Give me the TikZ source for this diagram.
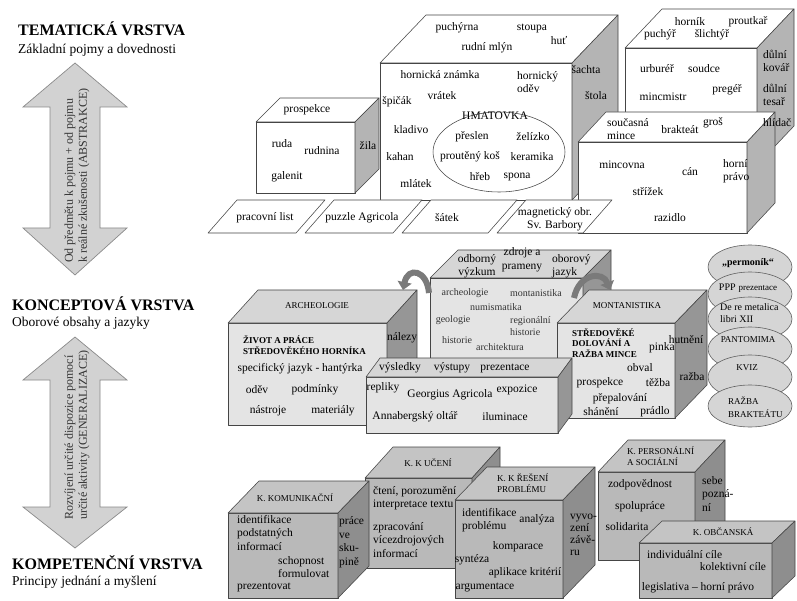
\documentclass[tikz,border=0pt]{standalone}
\usepackage{fontspec}
\setmainfont{Liberation Serif}
\usetikzlibrary{arrows.meta}

\definecolor{edgecol}{HTML}{454545}
\definecolor{sidegray}{HTML}{B4B4B4}
\definecolor{midfront}{HTML}{E4E4E4}
\definecolor{midtop}{HTML}{D6D6D6}
\definecolor{midside}{HTML}{969696}
\definecolor{lowfront}{HTML}{B9B9B9}
\definecolor{lowtop}{HTML}{C4C4C4}
\definecolor{lowside}{HTML}{8E8E8E}
\definecolor{arrowfill}{HTML}{D2D2D2}
\definecolor{arrowedge}{HTML}{8A8A8A}
\definecolor{bendgray}{HTML}{7A7A7A}
\definecolor{ovalfill}{HTML}{D5D5D5}
\definecolor{softtext}{HTML}{333333}

\tikzset{
  face/.style={draw=edgecol, line width=0.55pt, line join=round},
  bigarrow/.style={draw=arrowedge, fill=arrowfill, line width=0.7pt},
  curvearrow/.style={draw=bendgray, line width=6pt, -{Triangle[length=8pt,width=14pt]}},
  oval/.style={draw=edgecol!85, fill=ovalfill, line width=0.6pt},
  lbl/.style={font=\fontsize{11.5}{13.5}\selectfont, inner sep=0pt, align=center},
  lblw/.style={align=left, anchor=west},
  caps/.style={font=\fontsize{9}{10.5}\selectfont},
  heavy/.style={font=\bfseries\fontsize{9}{10.5}\selectfont, align=left, anchor=west},
  minor/.style={font=\fontsize{10}{12}\selectfont, text=softtext},
  layer/.style={font=\bfseries\fontsize{16}{18}\selectfont, anchor=west},
  layersub/.style={font=\fontsize{13.5}{15}\selectfont, anchor=west},
  axistext/.style={font=\fontsize{12}{14}\selectfont, text=softtext, rotate=90, anchor=west, align=left},
}

% cuboid: front corner (x,y), width, height, depth dx, depth dy, front/top/side fills
\newcommand\drawcuboid[9]{%
  \filldraw[face, fill=#7] (#1,#2) rectangle ++(#3,#4);
  \filldraw[face, fill=#8] (#1,#2) -- ++(#5,-#6) -- ++(#3,0) -- ++(-#5,#6) -- cycle;
  \filldraw[face, fill=#9] (#1+#3,#2) -- ++(#5,-#6) -- ++(0,#4) -- ++(-#5,#6) -- cycle;
}

\newcounter{txtno}
\newcommand\placetext[3][]{\stepcounter{txtno}\node[lbl,#1] (txt\arabic{txtno}) at (#2) {#3};}

\begin{document}
\begin{tikzpicture}[x=1pt,y=-1pt]
\useasboundingbox (0,0) rectangle (797,601);
\fill[white] (0,0) rectangle (797,601);

% ---------- layer arrows ----------
\filldraw[bigarrow] (75,63) -- (127,107) -- (100,107) -- (100,228) -- (127,228) -- (75,275)
  -- (23,228) -- (50,228) -- (50,107) -- (23,107) -- cycle;
\filldraw[bigarrow] (75,337) -- (127,380) -- (100,380) -- (100,507) -- (127,507) -- (75,548)
  -- (23,507) -- (50,507) -- (50,380) -- (23,380) -- cycle;

% ---------- thematic layer ----------
\drawcuboid{625}{48}{132}{117}{37}{39}{white}{white}{sidegray}
\drawcuboid{256}{122}{99}{71}{24}{24}{white}{white}{sidegray}
\drawcuboid{380}{63}{192}{137}{46}{48}{white}{white}{sidegray}
\draw[face, fill=white] (499,152) ellipse [x radius=66pt, y radius=40pt];
\drawcuboid{578}{142}{169}{91}{28}{30}{white}{white}{sidegray}
\filldraw[face, fill=white] (208,233) -- (296,233) -- (325,200) -- (237,200) -- cycle;
\filldraw[face, fill=white] (305,233) -- (393,233) -- (422,200) -- (334,200) -- cycle;
\filldraw[face, fill=white] (402,233) -- (488,233) -- (517,200) -- (431,200) -- cycle;
\filldraw[face, fill=white] (497,233) -- (583,233) -- (612,200) -- (526,200) -- cycle;

% ---------- conceptual layer ----------
\drawcuboid{430}{278}{153}{90}{28}{28}{midfront}{midtop}{midside}
\drawcuboid{228}{323}{159}{102}{30}{33}{midfront}{midtop}{midside}
\drawcuboid{557}{323}{118}{95}{32}{33}{midfront}{midtop}{midside}
\drawcuboid{366}{377}{192}{56}{14}{19}{midfront}{midtop}{midside}
\coordinate (bendLa) at (429,293);
\coordinate (bendLb) at (403,290);
\coordinate (bendRa) at (574,298);
\coordinate (bendRb) at (610,290);
\draw[curvearrow] (bendLa) .. controls (427,270) and (408,266) .. (bendLb);
\draw[curvearrow] (bendRa) .. controls (579,273) and (603,271) .. (bendRb);

\draw[oval] (750,267) ellipse [x radius=42pt, y radius=22pt];
\draw[oval] (750,294) ellipse [x radius=42pt, y radius=22pt];
\draw[oval] (750,319) ellipse [x radius=42pt, y radius=22pt];
\draw[oval] (750,349) ellipse [x radius=42pt, y radius=22pt];
\draw[oval] (750,377) ellipse [x radius=42pt, y radius=22pt];
\draw[oval] (750,406) ellipse [x radius=42pt, y radius=21pt];

% ---------- competence layer ----------
\drawcuboid{365}{478}{107}{90}{28}{31}{lowfront}{lowtop}{lowside}
\drawcuboid{598}{472}{97}{88}{30}{32}{lowfront}{lowtop}{lowside}
\drawcuboid{455}{500}{108}{98}{32}{33}{lowfront}{lowtop}{lowside}
\drawcuboid{228}{513}{110}{85}{31}{32}{lowfront}{lowtop}{lowside}
\drawcuboid{639}{543}{133}{55}{23}{22}{lowfront}{lowtop}{lowside}

% ---------- left column ----------
\placetext[layer]{18,29}{TEMATICKÁ VRSTVA}
\placetext[layersub]{18,50}{Základní pojmy a dovednosti}
\placetext[layer]{12,304}{KONCEPTOVÁ VRSTVA}
\placetext[layersub]{12,323}{Oborové obsahy a jazyky}
\placetext[layer]{12,563}{KOMPETENČNÍ VRSTVA}
\placetext[layersub]{12,582}{Principy jednání a myšlení}
\placetext[axistext]{77,263}{Od předmětu k pojmu + od pojmu\\k reálné zkušenosti (ABSTRAKCE)}
\placetext[axistext]{77,520}{Rozvíjení určité dispozice pomocí\\určité aktivity (GENERALIZACE)}

% ---------- thematic texts ----------
\placetext{307,110}{prospekce}
\placetext{282,144}{ruda}
\placetext{322,151}{rudnina}
\placetext{287,177}{galenit}
\placetext{368,146}{žila}
\placetext{457,28}{puchýrna}
\placetext{532,28}{stoupa}
\placetext{559,40}{huť}
\placetext{487,48}{rudní mlýn}
\placetext{440,75}{hornická známka}
\placetext[lblw]{517,82}{hornický\\oděv}
\placetext{442,96}{vrátek}
\placetext{397,102}{špičák}
\placetext{411,130}{kladivo}
\placetext{400,157}{kahan}
\placetext{416,184}{mlátek}
\placetext{495,116}{HMATOVKA}
\placetext{472,137}{přeslen}
\placetext{533,137}{želízko}
\placetext{470,157}{proutěný koš}
\placetext{532,157}{keramika}
\placetext{480,177}{hřeb}
\placetext{517,177}{spona}
\placetext{586,70}{šachta}
\placetext{596,96}{štola}
\placetext{690,22}{horník}
\placetext{748,22}{proutkař}
\placetext{660,35}{puchýř}
\placetext{712,35}{šlichtýř}
\placetext{657,69}{urburéř}
\placetext{704,69}{soudce}
\placetext{727,90}{pregéř}
\placetext{663,97}{mincmistr}
\placetext[lblw]{763,61}{důlní\\kovář}
\placetext[lblw]{763,95}{důlní\\tesař}
\placetext[lblw]{763,123}{hlídač}
\placetext[lblw]{607,129}{současná\\mince}
\placetext{680,130}{brakteát}
\placetext{713,123}{groš}
\placetext{622,165}{mincovna}
\placetext{690,172}{cán}
\placetext{648,192}{střížek}
\placetext{670,218}{razidlo}
\placetext[lblw]{723,171}{horní\\právo}
\placetext{265,218}{pracovní list}
\placetext{362,218}{puzzle Agricola}
\placetext{447,218}{šátek}
\placetext{555,219}{magnetický obr.\\Sv. Barbory}

% ---------- conceptual texts ----------
\placetext{477,266}{odborný\\výzkum}
\placetext{522,260}{zdroje a\\prameny}
\placetext[lblw]{552,266}{oborový\\jazyk}
\placetext[minor]{465,293}{archeologie}
\placetext[minor]{536,293}{montanistika}
\placetext[minor]{496,307}{numismatika}
\placetext[minor]{453,320}{geologie}
\placetext[minor,lblw]{510,326}{regionální\\historie}
\placetext[minor]{457,340}{historie}
\placetext[minor]{500,347}{architektura}
\placetext[caps]{317,306}{ARCHEOLOGIE}
\placetext[heavy]{243,345}{ŽIVOT A PRÁCE\\STŘEDOVĚKÉHO HORNÍKA}
\placetext{300,369}{specifický jazyk - hantýrka}
\placetext{257,390}{oděv}
\placetext{315,390}{podmínky}
\placetext{268,411}{nástroje}
\placetext{333,411}{materiály}
\placetext{402,338}{nálezy}
\placetext{400,368}{výsledky}
\placetext{452,368}{výstupy}
\placetext{505,368}{prezentace}
\placetext{383,388}{repliky}
\placetext{450,395}{Georgius Agricola}
\placetext{517,390}{expozice}
\placetext{415,417}{Annabergský oltář}
\placetext{505,417}{iluminace}
\placetext[caps]{627,306}{MONTANISTIKA}
\placetext[heavy]{572,343}{STŘEDOVĚKÉ\\DOLOVÁNÍ A\\RAŽBA MINCE}
\placetext{662,348}{pinka}
\placetext{640,368}{obval}
\placetext{600,383}{prospekce}
\placetext{658,383}{těžba}
\placetext{620,399}{přepalování}
\placetext{601,412}{shánění}
\placetext{655,412}{prádlo}
\placetext{686,340}{hutnění}
\placetext{692,377}{ražba}
\placetext[font=\bfseries\fontsize{10}{12}\selectfont]{748,263}{„permoník“}
\placetext{748,288}{{\fontsize{10}{12}\selectfont PPP} {\fontsize{9}{11}\selectfont prezentace}}
\placetext[lblw, font=\fontsize{10}{12}\selectfont]{720,313}{De re metalica\\libri XII}
\placetext[caps]{748,340}{PANTOMIMA}
\placetext[caps]{747,368}{KVIZ}
\placetext[caps,lblw,font=\fontsize{9}{12.5}\selectfont]{728,407}{RAŽBA\\BRAKTEÁTU}

% ---------- competence texts ----------
\placetext[caps]{295,498}{K. KOMUNIKAČNÍ}
\placetext[lblw]{237,533}{identifikace\\podstatných\\informací}
\placetext[lblw]{278,567}{schopnost\\formulovat}
\placetext[lblw]{237,587}{prezentovat}
\placetext[lblw]{339,542}{práce\\ve\\sku-\\pině}
\placetext[caps]{428,463}{K. K UČENÍ}
\placetext[lblw]{373,498}{čtení, porozumění\\interpretace textu}
\placetext[lblw]{373,540}{zpracování\\vícezdrojových\\informací}
\placetext[caps,lblw]{497,483}{K. K ŘEŠENÍ\\PROBLÉMU}
\placetext[lblw]{462,520}{identifikace\\problému}
\placetext{537,520}{analýza}
\placetext{518,547}{komparace}
\placetext{472,560}{syntéza}
\placetext{525,573}{aplikace kritérií}
\placetext{485,587}{argumentace}
\placetext[lblw, font=\fontsize{11.5}{12}\selectfont]{570,535}{vyvo-\\zení\\závě-\\ru}
\placetext[caps,lblw]{627,456}{K. PERSONÁLNÍ\\A SOCIÁLNÍ}
\placetext{640,485}{zodpovědnost}
\placetext{640,507}{spolupráce}
\placetext{627,527}{solidarita}
\placetext[lblw]{702,494}{sebe\\pozná-\\ní}
\placetext[caps]{723,532}{K. OBČANSKÁ}
\placetext[lblw]{647,555}{individuální cíle}
\placetext{733,567}{kolektivní cíle}
\placetext{698,588}{legislativa -- horní právo}
\end{tikzpicture}
\end{document}
